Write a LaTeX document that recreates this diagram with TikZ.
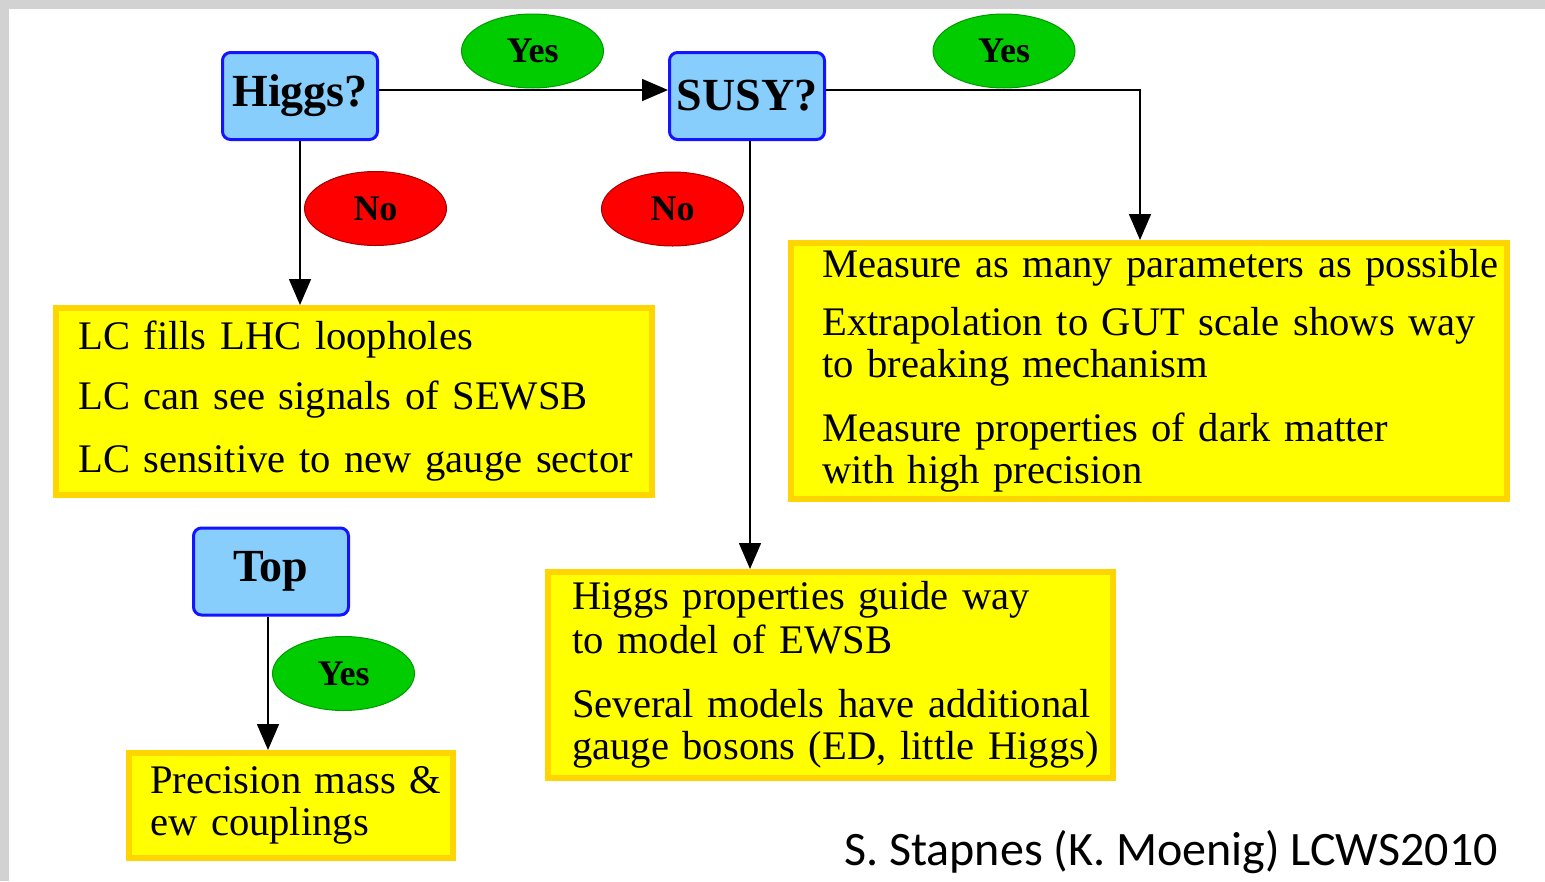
\documentclass[tikz,border=0pt]{standalone}
\usepackage{fontspec}
\setmainfont{Liberation Serif}
\newfontfamily\creditfont{Carlito}
\usetikzlibrary{shapes.geometric,arrows.meta}
\definecolor{slidegray}{HTML}{D2D2D2}
\definecolor{qfill}{HTML}{88CEFC}
\definecolor{qborder}{HTML}{1414FF}
\definecolor{yesfill}{HTML}{00CC00}
\definecolor{yesborder}{HTML}{009A00}
\definecolor{nofill}{HTML}{FF0000}
\definecolor{noborder}{HTML}{A00000}
\definecolor{ansfill}{HTML}{FFFF00}
\definecolor{ansborder}{HTML}{FFD500}
\begin{document}
\begin{tikzpicture}[x=1pt,y=-1pt,
  question/.style={draw=qborder, fill=qfill, line width=3pt, rounded corners=8pt,
    minimum width=155pt, minimum height=87pt, inner sep=0pt,
    font=\fontsize{46}{50}\selectfont\bfseries},
  yesnode/.style={ellipse, draw=yesborder, fill=yesfill, line width=1pt,
    minimum width=142pt, minimum height=74pt, inner sep=0pt,
    font=\fontsize{36}{40}\selectfont\bfseries},
  nonode/.style={yesnode, draw=noborder, fill=nofill},
  answer/.style={draw=ansborder, fill=ansfill, line width=6pt, inner sep=0pt},
  answertext/.style={anchor=base west, align=left, inner sep=0pt, text width=690pt,
    font=\fontsize{40.6}{42}\selectfont},
  flow/.style={line width=1.6pt, -{Triangle[length=26pt,width=22pt]}},
]
\useasboundingbox (0,0) rectangle (1545,881);
% slide background and white page
\fill[slidegray] (0,0) rectangle (1545,881);
\fill[white] (8.5,9) rectangle (1545,881);

% questions
\node[question] (higgs) at (300,96) {Higgs?};
\node[question] (susy)  at (747,96) {SUSY?};
\node[question] (top)   at (271,571.5) {Top};

% answer boxes
\node[answer, minimum width=596pt, minimum height=187pt] (lc)    at (354,401.5) {};
\node[answer, minimum width=716pt, minimum height=256pt] (meas)  at (1149,371) {};
\node[answer, minimum width=565pt, minimum height=206pt] (hprop) at (830.5,675) {};
\node[answer, minimum width=324pt, minimum height=105pt] (prec)  at (291,805.5) {};

\node[answertext] (lctext) at (78,349)
  {LC fills LHC loopholes\\[18pt]
   LC can see signals of SEWSB\\[21pt]
   LC sensitive to new gauge sector};
\node[answertext] (meastext) at (822,277)
  {Measure as many parameters as possible\\[16pt]
   Extrapolation to GUT scale shows way\\
   to breaking mechanism\\[22pt]
   Measure properties of dark matter\\
   with high precision};
\node[answertext] (hproptext) at (572,609)
  {Higgs properties guide way\\[2pt]
   to model of EWSB\\[22pt]
   Several models have additional\\
   gauge bosons (ED, little Higgs)};
\node[answertext] (prectext) at (150,793)
  {Precision mass \&\\
   ew couplings};

% branch labels
\node[yesnode] (yes1) at (532.5,51) {Yes};
\node[yesnode] (yes2) at (1004,51) {Yes};
\node[nonode]  (no1)  at (375.5,208.5) {No};
\node[nonode]  (no2)  at (672.5,209) {No};
\node[yesnode] (yes3) at (343.5,673.5) {Yes};

% connectors
\draw[flow] ([yshift=6pt]higgs.east) -- ([yshift=6pt]susy.west);
\draw[flow] ([yshift=6pt]susy.east) -| ([xshift=-9pt]meas.north);
\draw[flow] (higgs.south) -- (higgs.south |- lc.north);
\draw[flow] ([xshift=3pt]susy.south) -- ([xshift=3pt]susy.south |- hprop.north);
\draw[flow] ([xshift=-3pt]top.south) -- ([xshift=-3pt]top.south |- prec.north);

% credit line
\node[anchor=base east, inner sep=0pt, font=\creditfont\fontsize{48}{52}\selectfont]
  (credit) at (1498,865) {S. Stapnes (K. Moenig) LCWS2010};
\end{tikzpicture}
\end{document}
